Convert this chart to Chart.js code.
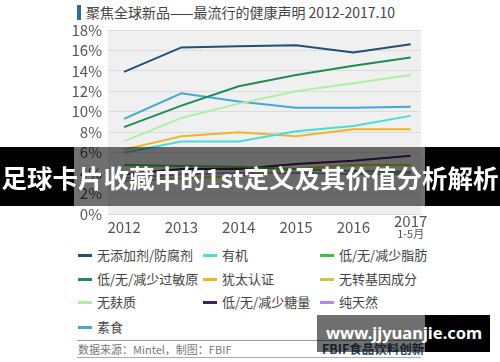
<!DOCTYPE html>
<html><head><meta charset="utf-8">
<script src="https://cdn.jsdelivr.net/npm/chart.js@4"></script>
<style>
html,body{margin:0;padding:0;}
body{width:500px;height:362px;background:#fff;position:relative;overflow:hidden;font-family:"Noto Sans CJK SC","Noto Sans",sans-serif;}
#c{position:absolute;left:0;top:0;}
.abs{position:absolute;white-space:nowrap;}
#bar{left:77px;top:5px;width:4px;height:15px;background:#2b6ca3;}
#title{left:86px;top:2px;font-size:14px;line-height:20px;color:#444;}
.lg{position:absolute;height:18px;line-height:18px;font-size:13px;color:#444;display:flex;align-items:center;white-space:nowrap;}
.lg i{display:inline-block;width:14px;height:3px;margin-right:5px;}
#rule1{left:77px;top:340px;width:344px;height:1px;background:#999;}
#rule2{left:77px;top:357px;width:344px;height:1px;background:#aaa;}
#src{left:78px;top:341px;font-size:11px;line-height:16px;color:#777;}
#brand{left:322px;top:340px;font-size:12.5px;line-height:18px;color:#2f4a63;font-weight:bold;}
.band{position:absolute;}
#banText{left:0;top:147px;width:500px;height:59px;line-height:59px;text-align:center;color:#fff;font-weight:bold;font-size:25.5px;font-family:"Noto Sans CJK SC",sans-serif;}
#wmText{left:326px;top:323px;font-size:16.5px;line-height:20px;color:#fff;font-weight:bold;font-family:"Noto Sans",sans-serif;}
</style></head><body>
<div id="bar" class="abs"></div>
<div id="title" class="abs">聚焦全球新品——最流行的健康声明 2012-2017.10</div>
<canvas id="c" width="500" height="245"></canvas>
<div id="legend"></div>
<div id="rule1" class="abs"></div>
<div id="src" class="abs">数据来源：Mintel，制图：FBIF</div>
<div id="brand" class="abs">FBIF食品饮料创新</div>
<div id="rule2" class="abs"></div>

<div class="band" style="left:0;top:147px;width:74px;height:59px;background:#000;"></div>
<div class="band" style="left:74px;top:147px;width:351px;height:59px;background:rgba(0,0,0,0.56);"></div>
<div class="band" style="left:425px;top:147px;width:75px;height:59px;background:#000;"></div>
<div id="banText" class="abs">足球卡片收藏中的1st定义及其价值分析解析</div>

<div class="band" style="left:317px;top:315px;width:108px;height:37px;background:rgba(0,0,0,0.56);"></div>
<div class="band" style="left:425px;top:315px;width:65px;height:37px;background:#000;"></div>
<div id="wmText" class="abs">www.jjyuanjie.com</div>

<script>
const years = [2012, 2013, 2014, 2015, 2016, 2017];
const yearLabels = ['2012', '2013', '2014', '2015', '2016', '2017'];
const lastYearNote = '1-5月';
const yTickValues = [0, 2, 4, 6, 8, 10, 12, 14, 16, 18];

const seriesNames = ['无添加剂/防腐剂', '有机', '低/无/减少脂肪', '低/无/减少过敏原', '犹太认证', '无转基因成分', '无麸质', '低/无/减少糖量', '纯天然', '素食'];
const seriesColors = ['#1f5078', '#48ddd5', '#39c639', '#1f8b57', '#f0b429', '#c8c83a', '#aeeea6', '#4a1d5c', '#b985e6', '#41a8d8'];

const noAdditives   = [13.9, 16.3, 16.4, 16.5, 15.8, 16.6];
const organic       = [6.0, 7.1, 7.1, 8.1, 8.6, 9.6];
const lowFat        = [4.8, 4.7, 4.6, 4.4, 4.2, 4.1];
const lowAllergen   = [8.5, 10.6, 12.5, 13.6, 14.5, 15.3];
const kosher        = [6.3, 7.6, 8.0, 7.6, 8.3, 8.3];
const nonGMO        = [3.2, 3.5, 3.7, 4.4, 4.8, 4.8];
const glutenFree    = [7.1, 9.4, 10.8, 12.0, 12.8, 13.6];
const lowSugar      = [3.9, 4.4, 4.4, 4.9, 5.2, 5.7];
const natural       = [3.5, 3.9, 4.0, 4.0, 3.9, 3.9];
const vegetarian    = [9.3, 11.8, 11.0, 10.4, 10.4, 10.5];

const seriesValues = [noAdditives, organic, lowFat, lowAllergen, kosher, nonGMO, glutenFree, lowSugar, natural, vegetarian];

// legend (HTML), 3 columns
const legendCols = [78, 203, 320];
const legendRowCenters = [255, 279, 302, 327];
const legendEl = document.getElementById('legend');
seriesNames.forEach((name, i) => {
  const d = document.createElement('div');
  d.className = 'lg';
  d.style.left = legendCols[i % 3] + 'px';
  d.style.top = (legendRowCenters[Math.floor(i / 3)] - 9) + 'px';
  d.innerHTML = '<i style="background:' + seriesColors[i] + '"></i><span>' + name + '</span>';
  legendEl.appendChild(d);
});

const bgPlugin = {
  id: 'bg',
  beforeDraw(chart) {
    const a = chart.chartArea, ctx = chart.ctx;
    ctx.save();
    ctx.fillStyle = '#f0f0f0';
    ctx.fillRect(a.left, a.top, a.right - a.left, a.bottom - a.top);
    ctx.restore();
  },
  afterDraw(chart) {
    const ctx = chart.ctx, xs = chart.scales.x;
    ctx.save();
    ctx.font = '11px "Noto Sans CJK SC", sans-serif';
    ctx.fillStyle = '#555';
    ctx.textAlign = 'center';
    ctx.textBaseline = 'middle';
    ctx.fillText(lastYearNote, xs.getPixelForValue(years[years.length - 1]), 234);
    ctx.restore();
  }
};

new Chart(document.getElementById('c'), {
  type: 'line',
  data: {
    datasets: seriesNames.map((name, i) => ({
      label: name,
      data: years.map((y, j) => ({ x: y, y: seriesValues[i][j] })),
      borderColor: seriesColors[i],
      backgroundColor: seriesColors[i],
      borderWidth: 2,
      pointRadius: 0,
      tension: 0,
      fill: false
    }))
  },
  options: {
    responsive: false,
    animation: false,
    layout: { padding: { top: 30, right: 79, left: 0, bottom: 0 } },
    plugins: { legend: { display: false }, tooltip: { enabled: false } },
    scales: {
      x: {
        type: 'linear',
        min: 2011.72,
        max: 2017.18,
        afterBuildTicks: s => { s.ticks = years.map(v => ({ value: v })); },
        afterFit: s => { s.height = 31; },
        grid: { display: false, drawTicks: false },
        border: { display: false },
        ticks: {
          autoSkip: false,
          maxRotation: 0,
          padding: 7,
          crossAlign: 'center',
          color: '#555',
          font: { family: '"Noto Sans CJK SC", sans-serif', size: 15, lineHeight: 0.85 },
          callback: (v) => {
            const idx = years.indexOf(v);
            const lbl = idx >= 0 ? yearLabels[idx] : '';
            return idx === years.length - 1 ? [lbl, ''] : lbl;
          }
        }
      },
      y: {
        min: 0,
        max: 18,
        afterBuildTicks: s => { s.ticks = yTickValues.map(v => ({ value: v })); },
        afterFit: s => { s.width = 108; },
        grid: { color: '#dcdcdc', drawTicks: false, lineWidth: 1 },
        border: { display: false },
        ticks: {
          autoSkip: false,
          padding: 6,
          color: '#555',
          font: { family: '"Noto Sans CJK SC", sans-serif', size: 15 },
          callback: v => v + '%'
        }
      }
    }
  },
  plugins: [bgPlugin]
});
</script>
</body></html>
